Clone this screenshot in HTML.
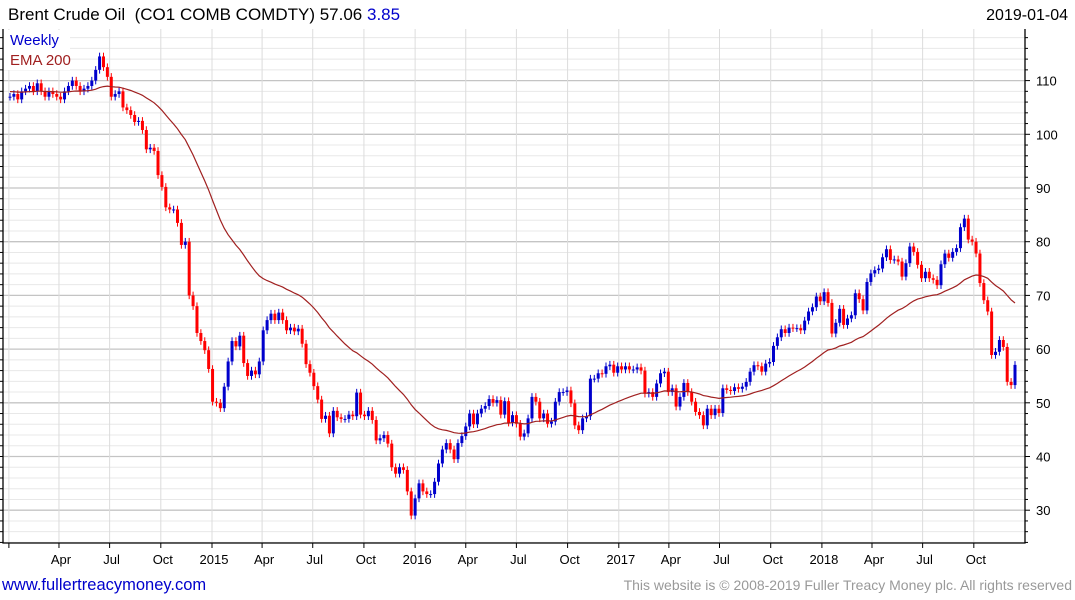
<!DOCTYPE html>
<html><head><meta charset="utf-8">
<style>
body{margin:0;background:#fff;width:1075px;height:600px;overflow:hidden;font-family:"Liberation Sans",sans-serif;}
svg{position:absolute;left:0;top:0}
</style></head>
<body>
<svg id="chart" width="1075" height="600" xmlns="http://www.w3.org/2000/svg">
<rect x="0" y="0" width="1075" height="600" fill="#fff"/>
<g id="grid"></g>
<g id="axes"></g>
<g id="candles"></g>
<g id="ema"></g>
<text x="8" y="20" font-size="17" fill="#000" style="white-space:pre" xml:space="preserve">Brent Crude Oil  (CO1 COMB COMDTY) 57.06 <tspan fill="#0000cc">3.85</tspan></text>
<text x="1068" y="20" font-size="16" fill="#000" text-anchor="end">2019-01-04</text>
<rect x="4" y="30" width="66" height="40" fill="#fff"/>
<text x="10" y="45" font-size="15" fill="#0000cc">Weekly</text>
<text x="10" y="65" font-size="15" fill="#a02020">EMA 200</text>
<text x="2" y="590" font-size="16.5" fill="#0000cc">www.fullertreacymoney.com</text>
<text x="1072" y="590" font-size="14" fill="#999" text-anchor="end">This website is © 2008-2019 Fuller Treacy Money plc. All rights reserved</text>
</svg>
<script>
const closes = [107,107.5,106.5,108,108.5,109,108,109.5,108,107,108,107.5,107,106.5,108,109,110,109,108,108.5,109,110,112,114.5,112.5,110.7,
107,107.5,108,105,104.5,103.6,102.3,102.5,100.8,97.2,97.5,96.9,92.4,90.2,86.4,86,86,83.5,79.4,80,70,68,63,61.5,
59.8,56.3,50.2,50,49,53,57.7,61.5,60.5,62.5,57.4,55,56,55.3,57.7,63.5,65.4,66.6,65.4,66.8,65.4,63.5,64,63.3,63.8,61,57.2,55.6,53.1,50.6,47,47.6,44.3,48.5,47.3,47,47,47.8,47.5,51.9,47.8,47.5,48.5,46.8,43,43.4,44,42.4,38,36.8,38,37.5,33.5,29,32.2,35,33.5,33,33,35.3,38.7,41.3,42.5,41.3,39.5,42.5,43.8,45.6,48,46,48,48.9,49.4,50.7,50,50.5,47.8,50.3,46.3,47.7,
46.1,43.7,44.3,47.1,51.1,50.2,47.1,48,46.1,46.5,50.2,52,52,52.3,49.9,45.8,44.9,47.1,47.5,54.5,54.5,55.5,55.4,56.8,57.1,55.6,56.8,56.2,56.8,56.2,56.2,56.6,56,51.7,52,51.1,53.6,55.5,55.8,52,52.7,49.3,51.1,53.7,52,50.2,48.3,47.7,45.8,48.9,47.7,48.9,48.1,52.7,52.4,52.2,52.9,52.6,53,53.9,55.8,57,56.8,55.8,57.3,
57.6,60.6,62.2,63.7,63,64,63.9,63.9,63.5,65.3,67,67.8,69.8,68.9,70.6,68.6,62.9,64.9,67.5,64.5,65.7,66.3,70.4,69.3,67.2,72.5,74.1,74.7,75,77.1,78.6,76.6,76.7,76.3,73.5,76,79.1,78.1,75.7,73.2,74.4,73.2,72.9,71.9,75.8,77.8,77,78.1,78.8,82.7,84.3,80.4,80,77.8,72.3,69.1,67,58.9,59.5,61.7,60.4,53.9,53.3,57.06];
const yTicks = [30,40,50,60,70,80,90,100,110];
const xLabels = ["","Apr","Jul","Oct","2015","Apr","Jul","Oct","2016","Apr","Jul","Oct","2017","Apr","Jul","Oct","2018","Apr","Jul","Oct"];
const xLabelDates = ["2014-01-01","2014-04-01","2014-07-01","2014-10-01","2015-01-01","2015-04-01","2015-07-01","2015-10-01","2016-01-01","2016-04-01","2016-07-01","2016-10-01","2017-01-01","2017-04-01","2017-07-01","2017-10-01","2018-01-01","2018-04-01","2018-07-01","2018-10-01"];
const emaSeed = 108;

const NS="http://www.w3.org/2000/svg";
const L=3,R=1025,T=29,B=543;
const x0=10,x1=1015;
const step=(x1-x0)/(closes.length-1);
const yOf=v=>241.7-(v-80)*5.37;
const xOf=i=>x0+i*step;
const start=new Date("2014-01-03").getTime();
const xDate=d=>x0+((new Date(d).getTime()-start)/864e5/7)*step;
function mk(tag,attrs,parent){const e=document.createElementNS(NS,tag);for(const k in attrs)e.setAttribute(k,attrs[k]);parent.appendChild(e);return e;}
const grid=document.getElementById('grid'),axes=document.getElementById('axes'),cg=document.getElementById('candles'),eg=document.getElementById('ema');
for(let v=24;v<=120;v+=2){const y=yOf(v);if(y<T||y>B)continue;
 const major=v%10===0;
 const ln=mk('line',{x1:L,x2:R,y1:y,y2:y,stroke:major?'#c4c4c4':'#e8e8e8','stroke-width':major?1.3:1},grid);
 
 
 const tk=mk('line',{x1:R,x2:R+(major?5:3),y1:y,y2:y,stroke:'#000'},axes);
 
 
 const tl=mk('line',{x1:L,x2:L-3,y1:y,y2:y,stroke:'#000'},axes);
 
 
}
yTicks.forEach(v=>{const t=mk('text',{x:R+11,y:yOf(v)+5,'font-size':13,fill:'#000'},axes);t.textContent=v;
 
 });
xLabelDates.forEach((d,i)=>{const x=xDate(d);
 const g=mk('line',{x1:x,x2:x,y1:T,y2:B,stroke:'#dcdcdc'},grid);
 
 
 const tk=mk('line',{x1:x,x2:x,y1:B,y2:B+5,stroke:'#000'},axes);
 
 
 if(xLabels[i]){const t=mk('text',{x:x+2,y:564,'font-size':13,fill:'#000','text-anchor':'middle'},axes);t.textContent=xLabels[i];
 
 }
});
const fr=mk('path',{d:`M${L},${T}V${B}H${R}V${T}`,fill:'none',stroke:'#000','stroke-width':1.3},axes);


closes.forEach((c,i)=>{
 const o=i>0?closes[i-1]:c;
 const hi=Math.max(o,c)+0.7,lo=Math.min(o,c)-0.7;
 const col=c>=o?'#0000cc':'#ff0000';
 const x=xOf(i);
 const w=mk('line',{x1:x,x2:x,y1:yOf(hi),y2:yOf(lo),stroke:col,'stroke-width':1},cg);
 
 
 const yt=yOf(Math.max(o,c)),yb=yOf(Math.min(o,c));
 const b=mk('rect',{x:x-1.5,y:yt,width:3,height:Math.max(1,yb-yt),fill:col},cg);
 
 
});
let e=emaSeed,a=2/41,pts=[];
closes.forEach((c,i)=>{e=e+a*(c-e);pts.push(xOf(i).toFixed(1)+','+yOf(e).toFixed(1));});
const pl=mk('polyline',{points:pts.join(' '),fill:'none',stroke:'#a02020','stroke-width':1.2},eg);


</script>
</body></html>
